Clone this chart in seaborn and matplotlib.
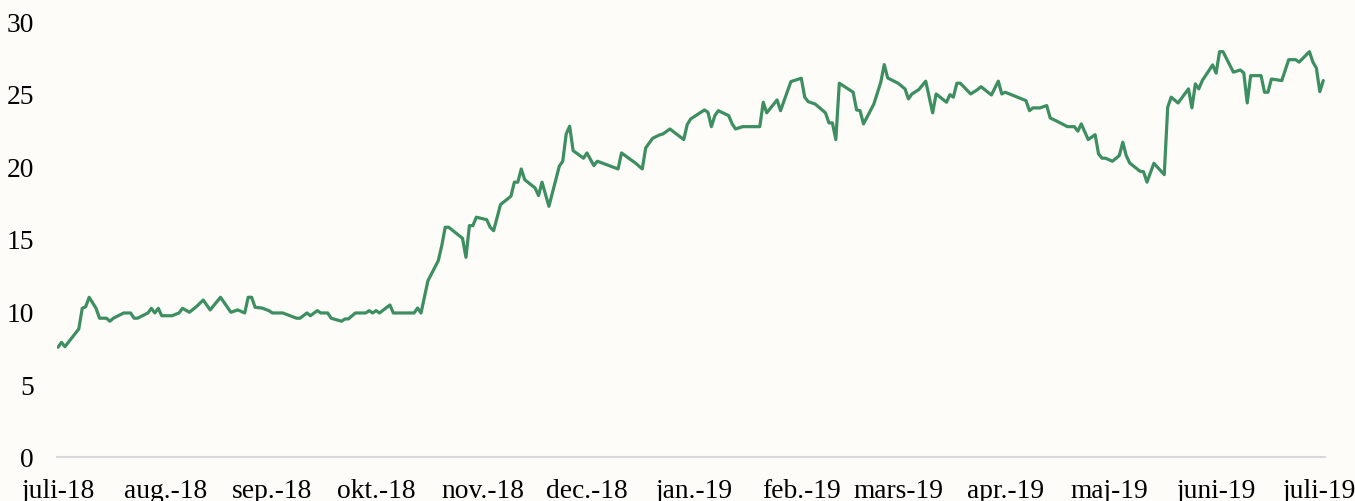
import numpy as np
import pandas as pd
from matplotlib import pyplot as plt
import seaborn as sns

# days counted from 2018-07-02 (first point)
days = [0, 1, 2, 6, 7, 8, 9, 11, 12, 14, 15, 16, 19, 21, 22, 23, 26, 27, 28, 29,
        30, 33, 35, 36, 38, 40, 42, 44, 47, 50, 52, 54, 55, 56, 57, 59, 61, 62, 65, 69,
        70, 72, 73, 75, 76, 78, 79, 82, 83, 84, 86, 89, 90, 91, 92, 93, 96, 97, 103, 104,
        105, 107, 110, 111, 112, 113, 117, 118, 119, 120, 121, 124, 125, 126, 128, 131, 132, 133, 134, 135,
        138, 139, 140, 142, 145, 146, 147, 148, 149, 152, 153, 155, 156, 162, 163, 167, 169, 170, 172, 174,
        175, 177, 181, 182, 183, 187, 188, 189, 190, 191, 194, 195, 196, 198, 203, 204, 205, 208, 209, 212,
        215, 216, 217, 219, 222, 223, 224, 225, 226, 230, 231, 232, 233, 236, 238, 239, 240, 243, 245, 246,
        247, 249, 251, 253, 254, 257, 258, 259, 260, 261, 264, 266, 267, 270, 272, 273, 274, 280, 281, 282,
        284, 286, 287, 289, 292, 294, 295, 296, 298, 300, 301, 302, 303, 305, 307, 308, 309, 310, 313, 314,
        315, 317, 320, 321, 322, 324, 327, 328, 329, 330, 331, 334, 335, 336, 337, 340, 342, 343, 344, 345,
        348, 349, 350, 351, 354, 356, 358, 359, 362, 363, 364, 365, 366]
values = [7.55, 7.89, 7.59, 8.81, 10.23, 10.34, 10.99, 10.23, 9.55, 9.55, 9.34, 9.55, 9.91, 9.91, 9.55, 9.55, 9.91, 10.23, 9.91, 10.23,
          9.72, 9.72, 9.91, 10.23, 9.96, 10.34, 10.80, 10.12, 10.99, 9.96, 10.12, 9.91, 10.99, 10.99, 10.30, 10.25, 10.07, 9.91, 9.91, 9.55,
          9.55, 9.91, 9.72, 10.07, 9.91, 9.91, 9.55, 9.34, 9.50, 9.50, 9.91, 9.91, 10.07, 9.91, 10.07, 9.91, 10.46, 9.91, 9.91, 10.25,
          9.91, 12.13, 13.51, 14.54, 15.81, 15.81, 15.05, 13.74, 15.92, 15.92, 16.50, 16.33, 15.81, 15.57, 17.37, 17.94, 18.91, 18.91, 19.82, 19.08,
          18.51, 17.99, 18.91, 17.25, 20.01, 20.35, 22.23, 22.76, 21.08, 20.56, 20.92, 20.05, 20.35, 19.82, 20.92, 20.23, 19.82, 21.27, 21.93, 22.16,
          22.23, 22.57, 21.84, 22.87, 23.26, 23.88, 23.72, 22.73, 23.49, 23.83, 23.49, 22.92, 22.57, 22.73, 22.73, 24.41, 23.68, 24.57, 23.83, 25.83,
          26.06, 24.76, 24.45, 24.29, 23.68, 22.99, 22.99, 21.84, 25.72, 25.10, 23.88, 23.83, 22.92, 24.29, 25.79, 27.00, 26.08, 25.72, 25.33, 24.64,
          24.98, 25.28, 25.86, 23.68, 24.98, 24.41, 24.93, 24.76, 25.72, 25.72, 24.98, 25.28, 25.48, 24.91, 25.86, 24.98, 25.10, 24.52, 23.83, 24.02,
          24.02, 24.18, 23.33, 23.10, 22.73, 22.73, 22.42, 22.92, 21.84, 22.18, 20.85, 20.56, 20.56, 20.35, 20.74, 21.66, 20.74, 20.23, 19.66, 19.63,
          18.91, 20.21, 19.43, 24.07, 24.76, 24.36, 25.33, 24.02, 25.67, 25.33, 25.90, 26.98, 26.41, 27.89, 27.89, 26.48, 26.63, 26.43, 24.36, 26.24,
          26.24, 25.10, 25.10, 26.01, 25.90, 27.34, 27.34, 27.17, 27.89, 27.17, 26.77, 25.14, 25.90]

tick_labels = ["juli-18", "aug.-18", "sep.-18", "okt.-18", "nov.-18", "dec.-18", "jan.-19",
               "feb.-19", "mars-19", "apr.-19", "maj-19", "juni-19", "juli-19"]
y_ticks = [0, 5, 10, 15, 20, 25, 30]

start = pd.Timestamp("2018-07-02")
df = pd.DataFrame({"date": start + pd.to_timedelta(days, unit="D"), "value": values})

sns.set_theme(style="white")
plt.rcParams["font.family"] = ["Liberation Serif", "DejaVu Serif"]

bg = "#fdfcf9"
fig = plt.figure(figsize=(13.55, 5.02), dpi=100, facecolor=bg)
ax = fig.add_axes([57 / 1355, 44 / 502, 1268 / 1355, 436 / 502])
ax.set_facecolor(bg)

sns.lineplot(data=df, x="date", y="value", ax=ax, color="#3d8e60", linewidth=2.3)

# month ticks on the same day as the first point (like excel date axis)
month_ticks = pd.date_range(start, periods=len(tick_labels), freq=pd.DateOffset(months=1))
ax.set_xticks(month_ticks)
ax.set_xticklabels(tick_labels)
ax.set_xlim(start - pd.Timedelta(days=0.3), start + pd.Timedelta(days=366.5))
ax.set_ylim(0, 30)
ax.set_yticks(y_ticks)
ax.set_yticklabels([str(v) for v in y_ticks])

ax.set_xlabel("")
ax.set_ylabel("")
for side in ["top", "right", "left"]:
    ax.spines[side].set_visible(False)
ax.spines["bottom"].set_color("#d9d9d9")
ax.spines["bottom"].set_linewidth(1.5)

ax.tick_params(axis="both", length=0, labelsize=19.8, colors="black")
ax.tick_params(axis="x", pad=15)
ax.tick_params(axis="y", pad=16.5)

plt.savefig("out.png", dpi=100, facecolor=bg)
